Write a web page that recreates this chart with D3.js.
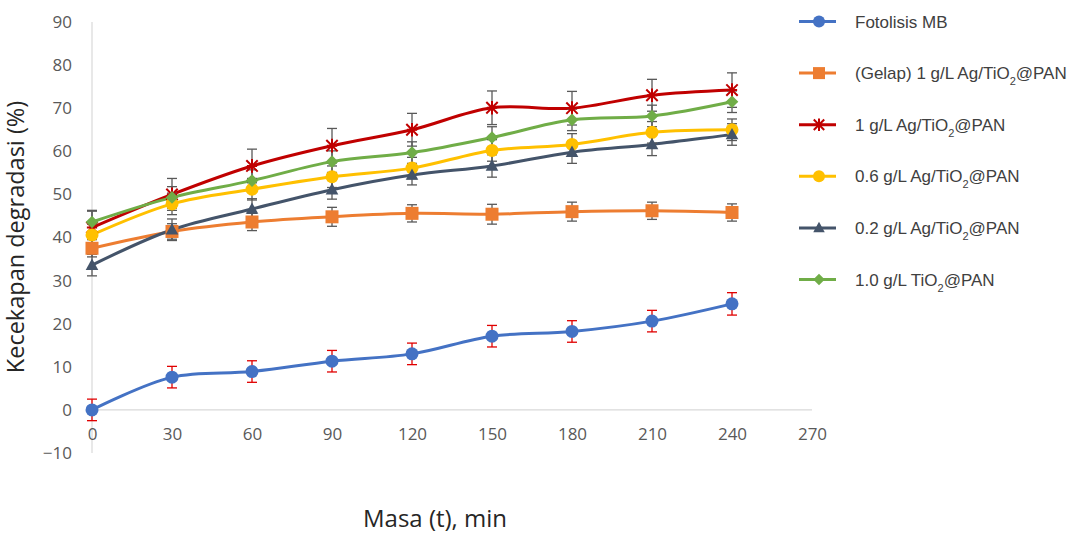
<!DOCTYPE html>
<html>
<head>
<meta charset="utf-8">
<script src="https://cdn.jsdelivr.net/npm/d3@7/dist/d3.min.js"></script>
<style>
  html, body { margin: 0; padding: 0; background: #ffffff; }
  svg { display: block; }
</style>
</head>
<body>
<svg id="chart" width="1074" height="534"></svg>
<script>
// ---- data ----
const times = [0, 30, 60, 90, 120, 150, 180, 210, 240];
const xTicks = [0, 30, 60, 90, 120, 150, 180, 210, 240, 270];
const yTicks = [-10, 0, 10, 20, 30, 40, 50, 60, 70, 80, 90];

const fotolisisMB = [0, 7.6, 8.9, 11.3, 13.0, 17.1, 18.2, 20.6, 24.6];
const gelap1g     = [37.5, 41.4, 43.6, 44.8, 45.6, 45.4, 46.0, 46.2, 45.8];
const ag1g        = [42.3, 50.0, 56.6, 61.3, 65.0, 70.1, 70.0, 73.0, 74.2];
const ag06g       = [40.6, 47.8, 51.2, 54.1, 56.1, 60.2, 61.6, 64.4, 65.0];
const ag02g       = [33.6, 41.8, 46.6, 51.1, 54.5, 56.6, 59.8, 61.6, 63.9];
const tio2_1g     = [43.6, 49.3, 53.2, 57.6, 59.7, 63.2, 67.3, 68.2, 71.5];

const errFotolisis = [2.5, 2.5, 2.5, 2.5, 2.5, 2.5, 2.5, 2.5, 2.6];
const errGelap     = [2.0, 1.8, 2.0, 2.2, 2.0, 2.3, 2.2, 2.0, 2.0];
const errAg1g      = [3.8, 3.7, 3.9, 4.0, 3.8, 3.9, 3.9, 3.7, 4.0];
const errAg06g     = [2.5, 2.5, 2.5, 2.5, 2.5, 2.5, 2.5, 2.5, 2.5];
const errAg02g     = [2.5, 2.5, 2.4, 2.2, 2.3, 2.6, 2.6, 2.6, 2.5];
const errTio2      = [2.7, 2.5, 2.5, 2.5, 2.5, 2.5, 2.5, 2.5, 2.5];

const seriesNames = [
  "Fotolisis MB",
  "(Gelap) 1 g/L Ag/TiO₂@PAN",
  "1 g/L Ag/TiO₂@PAN",
  "0.6 g/L Ag/TiO₂@PAN",
  "0.2 g/L Ag/TiO₂@PAN",
  "1.0 g/L TiO₂@PAN"
];
const seriesValues = [fotolisisMB, gelap1g, ag1g, ag06g, ag02g, tio2_1g];
const seriesErrors = [errFotolisis, errGelap, errAg1g, errAg06g, errAg02g, errTio2];

// ---- styles ----
const colors = ["#4472C4", "#ED7D31", "#C00000", "#FFC000", "#44546A", "#70AD47"];
const markers = ["circle", "square", "star", "circle", "triangle", "diamond"];
const errColors = ["#E00000", "#595959", "#595959", "#595959", "#595959", "#595959"];

const svg = d3.select("#chart");
const plot = { left: 92, right: 812, top: 22, bottom: 453 };

const x = d3.scaleLinear().domain([0, 270]).range([plot.left, plot.right]);
const y = d3.scaleLinear().domain([-10, 90]).range([plot.bottom, plot.top]);

// axes
const axisColor = "#D9D9D9";
svg.append("line")
  .attr("x1", x(0)).attr("x2", x(0))
  .attr("y1", y(90)).attr("y2", y(-10))
  .attr("stroke", axisColor).attr("stroke-width", 1.2);
svg.append("line")
  .attr("x1", x(0)).attr("x2", x(270))
  .attr("y1", y(0)).attr("y2", y(0))
  .attr("stroke", axisColor).attr("stroke-width", 1.2);

const tickFont = "'Open Sans', sans-serif";
const yAxis = d3.axisLeft(y).tickValues(yTicks).tickSize(0).tickPadding(20);
const gy = svg.append("g").attr("transform", `translate(${plot.left},0)`).call(yAxis);
gy.select(".domain").remove();
gy.selectAll("text").attr("fill", "#595959").style("font-family", tickFont).style("font-size", "17px");

const xAxisG = svg.append("g").attr("transform", `translate(0,${y(0)})`)
  .call(d3.axisBottom(x).tickValues(xTicks).tickSize(0).tickPadding(18));
xAxisG.select(".domain").remove();
xAxisG.selectAll("text").attr("fill", "#595959").style("font-family", tickFont).style("font-size", "17px");

// axis titles
svg.append("text")
  .attr("transform", `translate(24,237) rotate(-90)`)
  .attr("text-anchor", "middle")
  .attr("fill", "#262626")
  .style("font-family", tickFont).style("font-size", "23.5px")
  .text("Kecekapan degradasi (%)");
svg.append("text")
  .attr("x", 435).attr("y", 527)
  .attr("text-anchor", "middle")
  .attr("fill", "#262626")
  .style("font-family", tickFont).style("font-size", "24px")
  .text("Masa (t), min");

// marker drawing
function drawMarker(g, type, color, size) {
  const s = size;
  if (type === "circle") {
    g.append("circle").attr("r", s).attr("fill", color);
  } else if (type === "square") {
    g.append("rect").attr("x", -s).attr("y", -s).attr("width", 2 * s).attr("height", 2 * s).attr("fill", color);
  } else if (type === "diamond") {
    g.append("path").attr("d", `M0,${-s * 1.05}L${s * 1.05},0L0,${s * 1.05}L${-s * 1.05},0Z`).attr("fill", color);
  } else if (type === "triangle") {
    g.append("path").attr("d", `M0,${-s * 1.1}L${s * 1.05},${s * 0.8}L${-s * 1.05},${s * 0.8}Z`).attr("fill", color);
  } else if (type === "star") {
    const r = s * 0.95;
    g.append("path")
      .attr("d", `M${-r},${-r}L${r},${r}M${-r},${r}L${r},${-r}M0,${-r * 1.2}L0,${r * 1.2}M${-r * 0.9},0L${r * 0.9},0`)
      .attr("stroke", color).attr("stroke-width", 2).attr("fill", "none");
  }
}

const line = d3.line().x(d => x(d[0])).y(d => y(d[1])).curve(d3.curveCatmullRom.alpha(0.5));

const markerSize = [6.5, 6.5, 6, 6.5, 6, 6];

// lines
seriesValues.forEach((vals, i) => {
  const pts = times.map((t, j) => [t, vals[j]]);
  svg.append("path")
    .datum(pts)
    .attr("d", line)
    .attr("fill", "none")
    .attr("stroke", colors[i])
    .attr("stroke-width", 3)
    .attr("stroke-linejoin", "round");
});

// error bars
seriesValues.forEach((vals, i) => {
  const g = svg.append("g");
  times.forEach((t, j) => {
    const cx = x(t), lo = y(vals[j] - seriesErrors[i][j]), hi = y(vals[j] + seriesErrors[i][j]);
    const c = errColors[i];
    g.append("line").attr("x1", cx).attr("x2", cx).attr("y1", lo).attr("y2", hi).attr("stroke", c).attr("stroke-width", 1.3);
    g.append("line").attr("x1", cx - 5).attr("x2", cx + 5).attr("y1", lo).attr("y2", lo).attr("stroke", c).attr("stroke-width", 1.3);
    g.append("line").attr("x1", cx - 5).attr("x2", cx + 5).attr("y1", hi).attr("y2", hi).attr("stroke", c).attr("stroke-width", 1.3);
  });
});

// markers
seriesValues.forEach((vals, i) => {
  times.forEach((t, j) => {
    const g = svg.append("g").attr("transform", `translate(${x(t)},${y(vals[j])})`);
    drawMarker(g, markers[i], colors[i], markerSize[i]);
  });
});

// legend
const legendTop = 21.5, legendStep = 51.6;
seriesNames.forEach((name, i) => {
  const ly = legendTop + i * legendStep;
  const g = svg.append("g").attr("transform", `translate(0,${ly})`);
  g.append("line").attr("x1", 799).attr("x2", 836).attr("y1", 0).attr("y2", 0)
    .attr("stroke", colors[i]).attr("stroke-width", 3);
  const mg = g.append("g").attr("transform", "translate(819,0)");
  drawMarker(mg, markers[i], colors[i], markerSize[i] - 0.5);
  const parts = name.split("₂");
  const txt = g.append("text").attr("x", 855).attr("y", 6)
    .attr("fill", "#404040")
    .style("font-family", "'Liberation Sans', Arial, sans-serif")
    .style("font-size", "17px");
  if (parts.length === 2) {
    txt.append("tspan").text(parts[0]);
    txt.append("tspan").attr("baseline-shift", "sub").style("font-size", "11px").text("2");
    txt.append("tspan").text(parts[1]);
  } else {
    txt.text(name);
  }
});
</script>
</body>
</html>
